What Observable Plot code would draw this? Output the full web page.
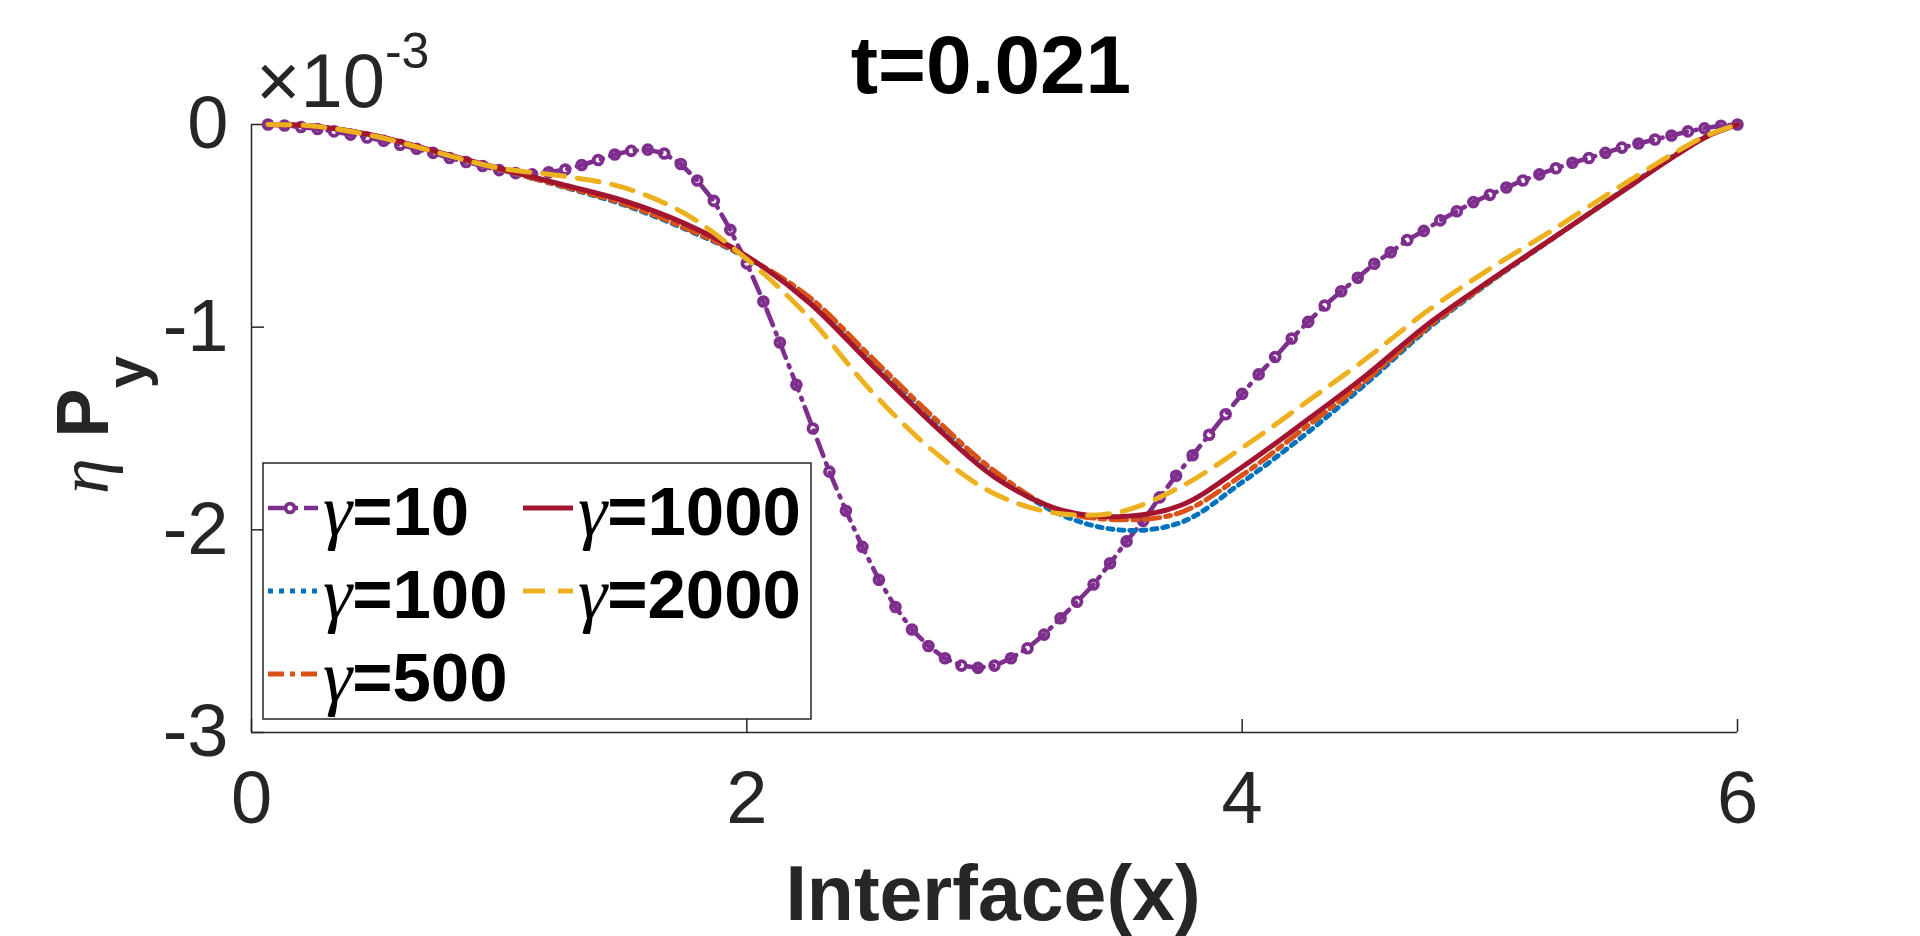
<!DOCTYPE html>
<html>
<head>
<meta charset="utf-8">
<script src="https://cdn.jsdelivr.net/npm/d3@7"></script>
<script src="https://cdn.jsdelivr.net/npm/@observablehq/plot@0.6"></script>
<style>
  html, body { margin: 0; padding: 0; background: #fff; }
  #chart { width: 1920px; height: 936px; }
</style>
</head>
<body>
<div id="chart"></div>
<script>
// ---------- data (values in units of 1e-3) ----------
const titleText = "t=0.021";
const xLabel = "Interface(x)";
const xTicks = [0, 2, 4, 6];
const yTicks = [0, -1, -2, -3];

// gamma = 10 : sampled points (markers)
const x10 = [0.0667,0.1333,0.2,0.2667,0.3333,0.4,0.4667,0.5333,0.6,0.6667,
             0.7333,0.8,0.8667,0.9333,1.0,1.0667,1.1333,1.2,1.2667,1.3333,
             1.4,1.4667,1.5333,1.6,1.6667,1.7333,1.8,1.8667,1.9333,2.0,
             2.0667,2.1333,2.2,2.2667,2.3333,2.4,2.4667,2.5333,2.6,2.6667,
             2.7333,2.8,2.8667,2.9333,3.0,3.0667,3.1333,3.2,3.2667,3.3333,
             3.4,3.4667,3.5333,3.6,3.6667,3.7333,3.8,3.8667,3.9333,4.0,
             4.0667,4.1333,4.2,4.2667,4.3333,4.4,4.4667,4.5333,4.6,4.6667,
             4.7333,4.8,4.8667,4.9333,5.0,5.0667,5.1333,5.2,5.2667,5.3333,
             5.4,5.4667,5.5333,5.6,5.6667,5.7333,5.8,5.8667,5.9333,6.0];
const y10 = [0.0,-0.005,-0.012,-0.022,-0.034,-0.05,-0.064,-0.08,-0.10,-0.12,
             -0.14,-0.165,-0.185,-0.205,-0.225,-0.24,-0.246,-0.236,-0.222,-0.20,
             -0.175,-0.148,-0.13,-0.124,-0.143,-0.195,-0.276,-0.377,-0.52,-0.685,
             -0.873,-1.076,-1.284,-1.50,-1.713,-1.906,-2.084,-2.246,-2.381,-2.492,
             -2.573,-2.634,-2.67,-2.681,-2.67,-2.634,-2.584,-2.517,-2.436,-2.355,
             -2.27,-2.165,-2.057,-1.956,-1.84,-1.733,-1.632,-1.531,-1.43,-1.329,
             -1.233,-1.147,-1.056,-0.974,-0.893,-0.823,-0.756,-0.687,-0.63,-0.57,
             -0.525,-0.473,-0.428,-0.383,-0.347,-0.311,-0.276,-0.246,-0.216,-0.189,
             -0.165,-0.14,-0.114,-0.094,-0.074,-0.054,-0.034,-0.019,-0.006,0.0];

// smooth curves, read at these x positions
const xs = [0.0667,0.25,0.5,0.75,1.0,1.25,1.5,1.75,2.0,2.25,2.5,2.75,3.0,
            3.25,3.5,3.75,4.0,4.25,4.5,4.75,5.0,5.25,5.5,5.75,5.875,6.0];
const y100  = [0,-0.008,-0.056,-0.137,-0.22,-0.305,-0.395,-0.515,-0.658,-0.855,-1.15,-1.447,-1.715,
               -1.915,-2.0,-1.965,-1.765,-1.534,-1.279,-1.008,-0.778,-0.566,-0.356,-0.148,-0.058,0];
const y500  = [0,-0.008,-0.056,-0.137,-0.22,-0.303,-0.39,-0.51,-0.655,-0.85,-1.145,-1.44,-1.71,
               -1.9,-1.95,-1.915,-1.73,-1.5,-1.262,-1.0,-0.775,-0.565,-0.357,-0.15,-0.059,0];
const y1000 = [0,-0.008,-0.055,-0.135,-0.216,-0.295,-0.375,-0.489,-0.65,-0.877,-1.181,-1.477,-1.74,
               -1.895,-1.935,-1.88,-1.69,-1.469,-1.238,-0.985,-0.77,-0.564,-0.359,-0.153,-0.06,0];
const y2000 = [0,-0.008,-0.058,-0.138,-0.215,-0.253,-0.31,-0.44,-0.665,-0.951,-1.312,-1.608,-1.822,
               -1.918,-1.913,-1.789,-1.595,-1.378,-1.156,-0.918,-0.712,-0.523,-0.326,-0.137,-0.055,0];

const names  = ["10", "100", "500", "1000", "2000"];
const colors = ["#7E2F8E", "#0072BD", "#D95319", "#A2142F", "#EDB120"];
const dashes = ["17,8,2,8", "5,6", "16,6,5,6", null, "22,13"];

// ---------- build ----------
const d10 = x10.map((x, i) => ({x, y: y10[i]}));
const smoothSets = [y100, y500, y1000, y2000].map((ys, j) => ({
  data: xs.map((x, i) => ({x, y: ys[i]})),
  color: colors[j + 1],
  dash: dashes[j + 1]
}));

const FONT = "'Liberation Sans', Arial, Helvetica, sans-serif";
const SERIF = "'Liberation Serif', 'Times New Roman', serif";
const AX = "#262626";
const LW = 5;

const chart = Plot.plot({
  width: 1920,
  height: 936,
  marginLeft: 251,
  marginRight: 183,
  marginTop: 124,
  marginBottom: 204,
  x: {domain: [0, 6]},
  y: {domain: [-3, 0]},
  style: {fontFamily: FONT, color: AX, background: "#fff", overflow: "visible"},
  marks: [
    Plot.axisX(xTicks, {tickSize: 0, tickPadding: 38, fontSize: 74, label: null, tickFormat: d => String(d), fill: AX}),
    Plot.axisY(yTicks, {tickSize: 0, tickPadding: 23, fontSize: 74, label: null, tickFormat: d => String(d), fill: AX}),
    Plot.ruleX([0], {stroke: AX, strokeWidth: 1.5}),
    Plot.ruleY([-3], {stroke: AX, strokeWidth: 1.5}),
    Plot.ruleX(xTicks, {x: d => d, y1: -3, y2: -3, insetTop: -13, stroke: AX, strokeWidth: 1.5}),
    Plot.ruleY(yTicks, {y: d => d, x1: 0, x2: 0, insetRight: -13, stroke: AX, strokeWidth: 1.5}),
    // gamma = 10
    Plot.line(d10, {x: "x", y: "y", stroke: colors[0], strokeWidth: 4.6, strokeDasharray: dashes[0]}),
    Plot.dot(d10, {x: "x", y: "y", r: 4.4, stroke: colors[0], strokeWidth: 3.8, fill: "none"}),
    // smooth ones in plotting order
    ...smoothSets.map(s => Plot.line(s.data, {
      x: "x", y: "y", stroke: s.color, strokeWidth: LW, curve: "catmull-rom",
      strokeDasharray: s.dash ?? undefined
    }))
  ]
});
document.getElementById("chart").appendChild(chart);

// ---------- annotations (title, labels, legend) ----------
const svg = d3.select(chart);

svg.append("text")
  .attr("x", 991).attr("y", 93)
  .attr("text-anchor", "middle")
  .attr("font-family", FONT).attr("font-weight", "bold").attr("font-size", 82)
  .attr("fill", "#000").text(titleText);

svg.append("text")
  .attr("x", 993).attr("y", 920)
  .attr("text-anchor", "middle")
  .attr("font-family", FONT).attr("font-weight", "bold").attr("font-size", 77)
  .attr("fill", AX).text(xLabel);

// exponent  x10^-3
const ex = svg.append("text").attr("x", 256).attr("y", 107)
  .attr("text-anchor", "start")
  .attr("font-family", FONT).attr("font-size", 76).attr("fill", AX);
ex.append("tspan").text("×10");
ex.append("tspan").attr("dy", -39).attr("font-size", 50).text("-3");

// y label  eta P_y
const yl = svg.append("text")
  .attr("transform", "translate(108,425) rotate(-90)")
  .attr("text-anchor", "middle").attr("fill", AX);
yl.append("tspan").attr("font-family", SERIF).attr("font-style", "italic").attr("font-size", 72).text("η");
yl.append("tspan").attr("font-family", FONT).attr("font-weight", "bold").attr("font-size", 74).text(" P");
yl.append("tspan").attr("font-family", FONT).attr("font-weight", "bold").attr("font-size", 58).attr("dy", 38).text("y");

// legend
const lg = svg.append("g");
lg.append("rect").attr("x", 263).attr("y", 463).attr("width", 548).attr("height", 256)
  .attr("fill", "#fff").attr("stroke", AX).attr("stroke-width", 1.5);
const cols = [268, 523], rows = [508, 591, 674];
names.forEach((nm, k) => {
  const cx = cols[Math.floor(k / 3)], cy = rows[k % 3];
  const g = lg.append("g");
  g.append("line").attr("x1", cx).attr("x2", cx + 50).attr("y1", cy).attr("y2", cy)
    .attr("stroke", colors[k]).attr("stroke-width", k === 0 ? 4.6 : LW)
    .attr("stroke-dasharray", k === 0 ? "20,6,4,6" : dashes[k]);
  if (k === 0) {
    g.append("circle").attr("cx", cx + 22).attr("cy", cy).attr("r", 4.4)
      .attr("fill", "#fff").attr("stroke", colors[0]).attr("stroke-width", 3.8);
  }
  const t = g.append("text").attr("x", cx + 55).attr("y", cy + 27)
    .attr("text-anchor", "start").attr("fill", "#000");
  t.append("tspan").attr("font-family", SERIF).attr("font-style", "italic").attr("font-size", 74).text("γ");
  t.append("tspan").attr("font-family", FONT).attr("font-weight", "bold").attr("font-size", 69).text("=" + nm);
});
</script>
</body>
</html>
